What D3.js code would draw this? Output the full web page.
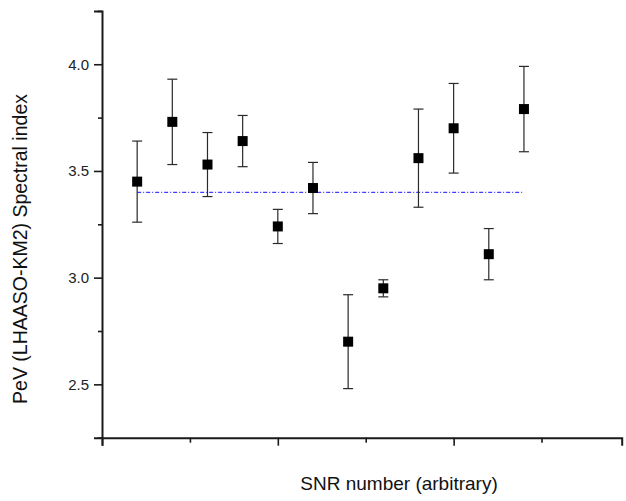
<!DOCTYPE html>
<html>
<head>
<meta charset="utf-8">
<script src="https://cdn.jsdelivr.net/npm/d3@7"></script>
<style>
  html, body { margin: 0; padding: 0; background: #fff; }
  svg { display: block; font-family: "Liberation Sans", Arial, Helvetica, sans-serif; }
</style>
</head>
<body>
<svg id="chart" width="626" height="501"></svg>
<script>
// SNR sample: arbitrary ordering number, PeV spectral index and its 1-sigma error
const snrNumber = [1, 2, 3, 4, 5, 6, 7, 8, 9, 10, 11, 12];
const spectralIndex = [3.45, 3.73, 3.53, 3.64, 3.24, 3.42, 2.70, 2.95, 3.56, 3.70, 3.11, 3.79];
const indexError = [0.19, 0.20, 0.15, 0.12, 0.08, 0.12, 0.22, 0.04, 0.23, 0.21, 0.12, 0.20];

// Reference spectral index drawn as a dashed horizontal line
const referenceIndex = 3.40;
const referenceSpan = [1, 12];

// Axis ticks
const yMajorTicks = [2.5, 3.0, 3.5, 4.0];
const yMinorTicks = [2.25, 2.75, 3.25, 3.75, 4.25];
const xMajorTicks = [0, 5, 10];
const xMinorTicks = [2.5, 7.5, 12.5];

const xTitle = "SNR number (arbitrary)";
const yTitle = "PeV (LHAASO-KM2) Spectral index";

const svg = d3.select("#chart");

const x = d3.scaleLinear().domain([0, 14.78]).range([102, 621.7]);
const y = d3.scaleLinear().domain([2.25, 4.25]).range([437.7, 10.9]);

const axisColor = "#1a1a1a";

// Y axis: major ticks with labels, then unlabeled minor ticks
const yAxisMajor = d3.axisLeft(y).tickValues(yMajorTicks).tickSize(8).tickPadding(5)
  .tickFormat(d3.format(".1f"));
const yAxisMinor = d3.axisLeft(y).tickValues(yMinorTicks).tickSize(4).tickFormat("");

const gy = svg.append("g").attr("transform", `translate(${x(0)},0)`);
gy.call(yAxisMajor);
svg.append("g").attr("transform", `translate(${x(0)},0)`).call(yAxisMinor)
  .select(".domain").remove();

// X axis: ticks without labels
const xAxisMajor = d3.axisBottom(x).tickValues(xMajorTicks).tickSize(8).tickFormat("");
const xAxisMinor = d3.axisBottom(x).tickValues(xMinorTicks).tickSize(5).tickFormat("");
const gx = svg.append("g").attr("transform", `translate(0,${y(2.25)})`);
gx.call(xAxisMajor);
svg.append("g").attr("transform", `translate(0,${y(2.25)})`).call(xAxisMinor)
  .select(".domain").remove();

svg.selectAll(".domain").attr("stroke", axisColor).attr("stroke-width", 2);
svg.selectAll(".tick line").attr("stroke", axisColor).attr("stroke-width", 1.6);
svg.selectAll(".tick text")
  .attr("fill", "#222")
  .style("font-size", "15px")
  .style("font-family", "'Liberation Sans', Arial, sans-serif");

// Reference line
svg.append("line")
  .attr("x1", x(referenceSpan[0]))
  .attr("x2", x(referenceSpan[1]))
  .attr("y1", y(referenceIndex))
  .attr("y2", y(referenceIndex))
  .attr("stroke", "#3d3dff")
  .attr("stroke-width", 1.2)
  .attr("stroke-dasharray", "4,2,1,2");

// Error bars and markers
const points = snrNumber.map((n, i) => ({ n, v: spectralIndex[i], e: indexError[i] }));
const capHalf = 5;
const marker = 10;

const bars = svg.append("g").attr("stroke", "#2a2a2a").attr("stroke-width", 1.2);
bars.selectAll("line.stem").data(points).join("line")
  .attr("class", "stem")
  .attr("x1", d => x(d.n)).attr("x2", d => x(d.n))
  .attr("y1", d => y(d.v + d.e)).attr("y2", d => y(d.v - d.e));
bars.selectAll("line.capTop").data(points).join("line")
  .attr("class", "capTop")
  .attr("x1", d => x(d.n) - capHalf).attr("x2", d => x(d.n) + capHalf)
  .attr("y1", d => y(d.v + d.e)).attr("y2", d => y(d.v + d.e));
bars.selectAll("line.capBot").data(points).join("line")
  .attr("class", "capBot")
  .attr("x1", d => x(d.n) - capHalf).attr("x2", d => x(d.n) + capHalf)
  .attr("y1", d => y(d.v - d.e)).attr("y2", d => y(d.v - d.e));

svg.append("g").selectAll("rect").data(points).join("rect")
  .attr("x", d => x(d.n) - marker / 2)
  .attr("y", d => y(d.v) - marker / 2)
  .attr("width", marker)
  .attr("height", marker)
  .attr("fill", "#000");

// Axis titles
svg.append("text")
  .attr("x", 399)
  .attr("y", 490)
  .attr("text-anchor", "middle")
  .attr("fill", "#111")
  .style("font-size", "19px")
  .text(xTitle);

svg.append("text")
  .attr("transform", "translate(27,249) rotate(-90)")
  .attr("text-anchor", "middle")
  .attr("fill", "#111")
  .style("font-size", "19.5px")
  .text(yTitle);
</script>
</body>
</html>
